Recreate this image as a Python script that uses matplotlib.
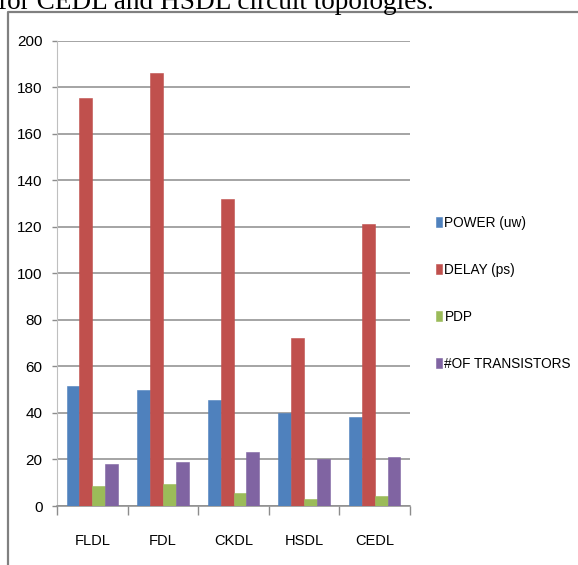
import matplotlib
matplotlib.use("Agg")
import matplotlib.pyplot as plt
import numpy as np
from matplotlib.lines import Line2D

plt.rcParams['font.family'] = ['Liberation Sans', 'DejaVu Sans']

circuits = ["FLDL", "FDL", "CKDL", "HSDL", "CEDL"]
power = [51.6, 49.9, 45.6, 40.0, 38.1]
delay = [175.4, 186.1, 131.9, 72.4, 121.2]
pdp = [8.6, 9.3, 5.4, 2.9, 4.4]
transistors = [18, 19, 23, 20, 21]

series = [
    ("POWER (uw)", power, "#4F81BD"),
    ("DELAY (ps)", delay, "#C0504D"),
    ("PDP", pdp, "#9BBB59"),
    ("#OF TRANSISTORS", transistors, "#8064A2"),
]
yticks = [0, 20, 40, 60, 80, 100, 120, 140, 160, 180, 200]

W, H = 578, 565
fig = plt.figure(figsize=(W / 100, H / 100), dpi=100)
ax = fig.add_axes([57 / W, 1 - 506 / H, (410 - 57) / W, (506 - 40.7) / H])

x = np.arange(len(circuits))
bw = 0.182
for i, (name, vals, col) in enumerate(series):
    ax.bar(x + (i - 1.5) * bw, vals, bw, color=col, label=name,
           edgecolor=col, linewidth=0.4, zorder=3)

ax.set_xlim(-0.5, len(circuits) - 0.5)
ax.set_ylim(0, 200)
ax.set_yticks(yticks)
ax.set_yticklabels([str(v) for v in yticks], fontsize=11)
ax.yaxis.grid(True, color="#8C8C8C", linewidth=1.1, zorder=0)
ax.tick_params(axis="y", length=3.3, width=1, color="#8C8C8C", pad=7)

ax.set_xticks(x)
ax.set_xticklabels(circuits, fontsize=10.5)
ax.set_xticks(np.arange(len(circuits) + 1) - 0.5, minor=True)
ax.tick_params(axis="x", which="major", length=0, pad=20)
ax.tick_params(axis="x", which="minor", length=6.5, width=1, color="#8C8C8C")

for s in ["top", "right"]:
    ax.spines[s].set_visible(False)
ax.spines["left"].set_color("#BFBFBF")
ax.spines["bottom"].set_color("#8C8C8C")
ax.spines["bottom"].set_linewidth(1.1)

ax.legend(loc="upper left", bbox_to_anchor=(436 / W, 1 - 216 / H),
          bbox_transform=fig.transFigure, frameon=False, fontsize=9.8,
          handlelength=0.47, handleheight=0.73, handletextpad=0.15,
          labelspacing=2.42, borderaxespad=0, borderpad=0)

# frame around the chart and the caption line above it
fig.add_artist(Line2D([8 / W, 8 / W, 1], [0, 1 - 11.5 / H, 1 - 11.5 / H],
                      transform=fig.transFigure, color="#808080", linewidth=1.6))
fig.text(-2 / W, 1 - 9 / H, "for CEDL and HSDL circuit topologies.",
         family="Liberation Serif", fontsize=19.6, va="baseline", ha="left")

fig.savefig("out.png", dpi=100)
